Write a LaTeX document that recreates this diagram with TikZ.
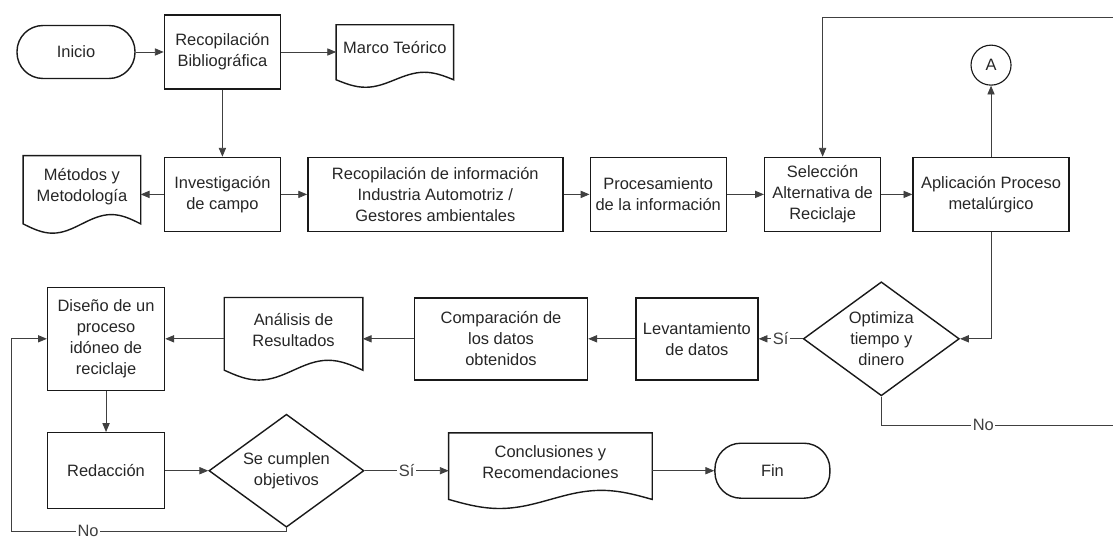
\documentclass[tikz,border=0pt]{standalone}
\usepackage{fontspec}
\setmainfont{Liberation Sans}
\usepackage{tikz}
\usetikzlibrary{arrows.meta, positioning, shapes.geometric, calc}

\begin{document}
\begin{tikzpicture}[
    every node/.style={font=\fontsize{11.7}{14.9}\selectfont, text=black!85},
    box/.style={draw=black!90, line width=1pt, align=center, inner sep=2pt,
                minimum width=2.9cm, minimum height=1.85cm},
    term/.style={draw=black!90, line width=1pt, rounded corners=0.65cm,
                 minimum width=2.95cm, minimum height=1.325cm},
    conn/.style={draw=black!90, circle, line width=0.8pt, minimum size=1cm, inner sep=0pt},
    dec/.style={draw=black!90, diamond, aspect=1.37, line width=1pt, align=center,
                inner sep=0pt, minimum width=3.9cm, minimum height=2.85cm},
    doc/.style={align=center, inner sep=2pt, text depth=0.45cm,
                minimum width=2.925cm, minimum height=1.55cm,
                append after command={\pgfextra{
                  \draw[draw=black!90, line width=1pt]
                    let \p1=(\tikzlastnode.south west), \p2=(\tikzlastnode.north east),
                        \n1={\x2-\x1}, \n2={\y2-\y1} in
                    (\x1,\y2) -- (\x1,\y1+0.12*\n2)
                    sin (\x1+0.25*\n1,\y1)
                    cos (\x1+0.5*\n1,\y1+0.12*\n2)
                    sin (\x1+0.75*\n1,\y1+0.24*\n2)
                    cos (\x2,\y1+0.12*\n2)
                    -- (\x2,\y2) -- cycle;}}},
    arrow/.style={-{Triangle[length=2.2mm, width=1.8mm]}, line width=0.6pt, draw=black!75},
    lbl/.style={fill=white, inner sep=1pt, text=black!75}
]
    \useasboundingbox (0,0) rectangle (27.825,-13.55);

    % first row
    \node[term] (inicio) at (1.9,-1.3) {Inicio};
    \node[box, right=0.7cm of inicio] (recbib) {Recopilación\\Bibliográfica};
    \node[doc, right=1.375cm of recbib, yshift=-0.1cm] (marco) {Marco Teórico};

    % second row
    \node[box, below=1.675cm of recbib] (invcampo) {Investigación\\de campo};
    \node[doc, left=0.575cm of invcampo, minimum height=1.925cm] (metodos) {Métodos y\\Metodología};
    \node[box, right=0.65cm of invcampo, minimum width=6.375cm] (recinfo)
        {Recopilación de información\\Industria Automotriz /\\Gestores ambientales};
    \node[box, right=0.65cm of recinfo, minimum width=3.4cm] (proc) {Procesamiento\\de la información};
    \node[box, right=0.925cm of proc] (selec) {Selección\\Alternativa de\\Reciclaje};
    \node[box, right=0.775cm of selec, minimum width=3.9cm] (aplic) {Aplicación Proceso\\metalúrgico};
    \node[conn, above=1.775cm of aplic] (circA) {A};

    % third row
    \node[dec, below=1.225cm of selec.south east] (optim) {Optimiza\\tiempo y\\dinero};
    \node[box, left=1.1cm of optim, minimum width=3.05cm, minimum height=2.05cm] (levant)
        {Levantamiento\\de datos};
    \node[box, left=1.175cm of levant, minimum width=4.325cm, minimum height=2.05cm] (compar)
        {Comparación de\\los datos\\obtenidos};
    \node[doc, left=1.275cm of compar, minimum width=3.45cm, minimum height=2.05cm] (analisis)
        {Análisis de\\Resultados};
    \node[box, left=1.475cm of analisis, minimum width=2.925cm, minimum height=2.575cm] (diseno)
        {Diseño de un\\proceso\\idóneo de\\reciclaje};

    % last row
    \node[box, below=1.025cm of diseno, minimum width=2.925cm, minimum height=1.9cm] (redac) {Redacción};
    \node[dec, right=1.075cm of redac, minimum width=3.875cm, minimum height=2.825cm] (cumplen)
        {Se cumplen\\objetivos};
    \node[doc, right=2.1cm of cumplen, minimum width=5.075cm, minimum height=1.875cm] (concl)
        {Conclusiones y\\Recomendaciones};
    \node[term, right=1.55cm of concl, minimum width=2.875cm, minimum height=1.375cm] (fin) {Fin};

    \coordinate (edgeR) at (28.1,-10.625);
    \coordinate (topR) at (28.1,-0.425);
    \coordinate (edgeL) at (0.275,-13.28);

    \draw[arrow] (inicio) -- (recbib);
    \draw[arrow] (recbib) -- (recbib -| marco.west);
    \draw[arrow] (recbib) -- (invcampo);
    \draw[arrow] (invcampo) -- (metodos);
    \draw[arrow] (invcampo) -- (recinfo);
    \draw[arrow] (recinfo) -- (proc);
    \draw[arrow] (proc) -- (selec);
    \draw[arrow] (selec) -- (aplic);
    \draw[arrow] (aplic) -- (circA);
    \draw[arrow] (aplic.south) |- (optim.east);
    \draw[arrow] (optim) -- node[lbl]{Sí} (levant);
    \draw[arrow] (optim.south) |- node[lbl, pos=0.71]{No} (edgeR) -- (topR) -| (selec.north);
    \draw[arrow] (levant) -- (compar);
    \draw[arrow] (compar) -- (analisis);
    \draw[arrow] (analisis) -- (diseno);
    \draw[arrow] (diseno) -- (redac);
    \draw[arrow] (redac) -- (cumplen);
    \draw[arrow] (cumplen) -- node[lbl]{Sí} (concl);
    \draw[arrow] (concl) -- (fin);
    \draw[arrow] (cumplen.south) |- node[lbl, pos=0.86]{No} (edgeL) |- (diseno.west);
\end{tikzpicture}
\end{document}
